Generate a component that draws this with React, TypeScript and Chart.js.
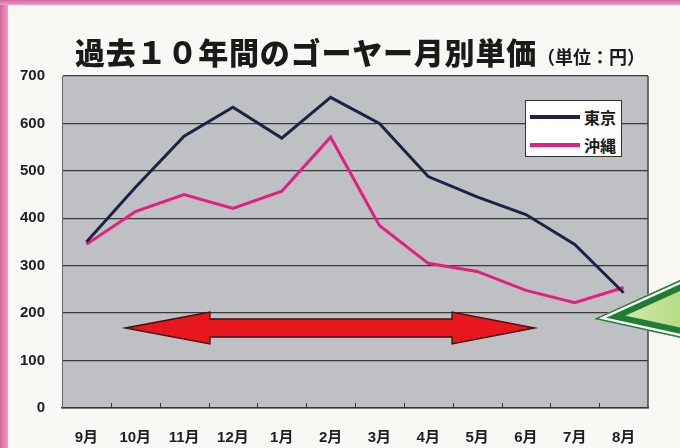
import React, { useEffect, useRef } from "react";
import { Chart, registerables } from "chart.js";

Chart.register(...registerables);

const months = ["9月", "10月", "11月", "12月", "1月", "2月", "3月", "4月", "5月", "6月", "7月", "8月"];
const tokyo = [350, 465, 573, 634, 569, 655, 600, 488, 445, 408, 345, 243];
const okinawa = [345, 414, 450, 421, 457, 571, 385, 305, 288, 248, 222, 254];
const seriesNames = ["東京", "沖縄"];
const seriesColors = ["#1c2442", "#e2217e"];
const yMin = 0;
const yMax = 700;
const yStep = 100;
const titleMain = "過去１０年間のゴーヤー月別単価";
const titleUnit = "（単位：円）";

const FONT = '"Liberation Sans", "Noto Sans CJK JP", sans-serif';
const CJK = '"Noto Sans CJK JP", "Noto Sans CJK SC", sans-serif';

const decorPlugin = {
  id: "decor",
  beforeDraw(chart: any) {
    const { ctx, width, height, chartArea } = chart;
    ctx.save();
    ctx.fillStyle = "#f9f8f4";
    ctx.fillRect(0, 0, width, height);
    const gl = ctx.createLinearGradient(0, 0, 9, 0);
    gl.addColorStop(0, "#d4679b");
    gl.addColorStop(1, "#e9a6c6");
    ctx.fillStyle = gl;
    ctx.fillRect(0, 0, 8, height);
    const gt = ctx.createLinearGradient(0, 0, 0, 6);
    gt.addColorStop(0, "#d4679b");
    gt.addColorStop(1, "#eab0cb");
    ctx.fillStyle = gt;
    ctx.fillRect(0, 0, width, 5);
    ctx.fillStyle = "#bfc0c4";
    ctx.fillRect(chartArea.left, chartArea.top, chartArea.right - chartArea.left, chartArea.bottom - chartArea.top);
    ctx.restore();
  },
  afterDraw(chart: any) {
    const { ctx, chartArea } = chart;
    const xs = chart.scales.x;
    ctx.save();
    ctx.strokeStyle = "#444";
    ctx.lineWidth = 1.5;
    ctx.beginPath();
    ctx.moveTo(chartArea.right, chartArea.top);
    ctx.lineTo(chartArea.right, chartArea.bottom);
    ctx.stroke();
    ctx.strokeStyle = "#333";
    ctx.lineWidth = 1;
    for (let i = 1; i < months.length; i++) {
      const x = Math.round((xs.getPixelForTick(i - 1) + xs.getPixelForTick(i)) / 2) + 0.5;
      ctx.beginPath();
      ctx.moveTo(x, chartArea.bottom);
      ctx.lineTo(x, chartArea.bottom - 5);
      ctx.stroke();
    }
    // red double arrow
    ctx.beginPath();
    ctx.moveTo(125, 328);
    ctx.lineTo(210, 312);
    ctx.lineTo(210, 319);
    ctx.lineTo(452, 319);
    ctx.lineTo(452, 312);
    ctx.lineTo(535, 328);
    ctx.lineTo(452, 344);
    ctx.lineTo(452, 337);
    ctx.lineTo(210, 337);
    ctx.lineTo(210, 344);
    ctx.closePath();
    ctx.fillStyle = "#e8161d";
    ctx.fill();
    ctx.strokeStyle = "#3b1212";
    ctx.lineWidth = 1.3;
    ctx.stroke();
    // green arrow pointing left
    ctx.beginPath();
    ctx.moveTo(594, 319);
    ctx.lineTo(700, 271);
    ctx.lineTo(700, 342);
    ctx.closePath();
    const gg = ctx.createLinearGradient(600, 0, 680, 0);
    gg.addColorStop(0, "#dcefb9");
    gg.addColorStop(1, "#b6dc84");
    ctx.fillStyle = gg;
    ctx.fill();
    ctx.save();
    ctx.clip();
    ctx.lineJoin = "miter";
    ctx.strokeStyle = "#1f7d34";
    ctx.lineWidth = 20;
    ctx.stroke();
    ctx.strokeStyle = "#ffffff";
    ctx.lineWidth = 7.5;
    ctx.stroke();
    ctx.strokeStyle = "#1f7d34";
    ctx.lineWidth = 3;
    ctx.stroke();
    ctx.restore();
    ctx.restore();
  },
};

export default function App() {
  const ref = useRef<HTMLCanvasElement | null>(null);

  useEffect(() => {
    document.body.style.margin = "0";
    const canvas = ref.current;
    if (!canvas) return;
    const seriesData = [tokyo, okinawa];
    const chart = new Chart(canvas, {
      type: "line",
      data: {
        labels: months,
        datasets: seriesNames.map((name, i) => ({
          label: name,
          data: seriesData[i],
          borderColor: seriesColors[i],
          backgroundColor: seriesColors[i],
          borderWidth: 3,
          pointRadius: 0,
          tension: 0,
          fill: false,
        })),
      },
      options: {
        animation: false,
        responsive: false,
        layout: { padding: { top: 76, right: 32, left: 0, bottom: 0 } },
        plugins: {
          legend: { display: false },
          title: { display: false },
          tooltip: { enabled: false },
        },
        scales: {
          x: {
            type: "category",
            offset: true,
            grid: { display: false, drawTicks: false },
            border: { display: true, color: "#333", width: 1.5 },
            ticks: {
              font: { size: 15, weight: "bold", family: FONT },
              color: "#1e1e1e",
              padding: 21,
              maxRotation: 0,
              autoSkip: false,
            },
            afterFit: (s: any) => {
              s.height = 40;
            },
          },
          y: {
            min: yMin,
            max: yMax,
            ticks: {
              stepSize: yStep,
              padding: 17,
              font: { size: 15, weight: "bold", family: FONT },
              color: "#1e1e1e",
            },
            grid: { color: "#3a3a3a", lineWidth: 1.3, drawTicks: false },
            border: { display: true, color: "#666", width: 1 },
            afterFit: (s: any) => {
              s.width = 62;
            },
          },
        },
      },
      plugins: [decorPlugin],
    });
    return () => chart.destroy();
  }, []);

  return (
    <div style={{ position: "absolute", left: 0, top: 0, width: 680, height: 448, overflow: "hidden" }}>
      <canvas ref={ref} width={680} height={448} style={{ display: "block" }} />
      <div
        style={{
          position: "absolute",
          left: 75,
          top: 36,
          whiteSpace: "nowrap",
          fontFamily: CJK,
          fontWeight: 900,
          color: "#1a1a1a",
          lineHeight: "30px",
        }}
      >
        <span style={{ fontSize: 30, letterSpacing: 0.8 }}>{titleMain}</span>
        <span style={{ fontSize: 18, fontWeight: 700 }}>{titleUnit}</span>
      </div>
      <div
        style={{
          position: "absolute",
          left: 525,
          top: 100,
          width: 97,
          height: 57,
          background: "#ffffff",
          border: "1px solid #333",
          boxSizing: "border-box",
        }}
      >
        {seriesNames.map((name, i) => (
          <div key={name} style={{ position: "absolute", left: 0, top: 2 + i * 28, height: 28, width: 96 }}>
            <div
              style={{
                position: "absolute",
                left: 4,
                top: 12,
                width: 50,
                height: 4,
                background: seriesColors[i],
              }}
            />
            <div
              style={{
                position: "absolute",
                left: 58,
                top: 3,
                fontFamily: CJK,
                fontWeight: 700,
                fontSize: 16,
                lineHeight: "22px",
                color: "#1a1a1a",
              }}
            >
              {name}
            </div>
          </div>
        ))}
      </div>
    </div>
  );
}
